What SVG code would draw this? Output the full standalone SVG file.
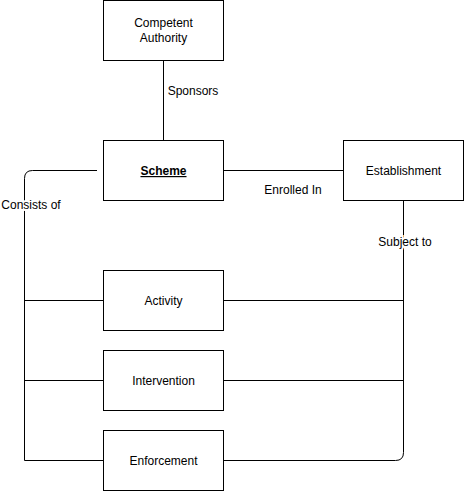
<svg xmlns="http://www.w3.org/2000/svg" width="464" height="491" viewBox="0 0 464 491">
<style>
.box{fill:#fff;stroke:#000;stroke-width:1}
.ln{fill:none;stroke:#000;stroke-width:1}
text{font-family:"Liberation Sans",Arial,sans-serif;font-size:12px;fill:#000;text-anchor:middle}
.lbl{paint-order:stroke;stroke:#fff;stroke-width:4}
</style>
<rect width="464" height="491" fill="#fff"/>
<g id="connectors">
<path class="ln" d="M163.5 60.5V140.5"/>
<path class="ln" d="M223.5 170.5H343.5"/>
<path class="ln" d="M97 170.5H32.5Q24.5 170.5 24.5 178.5V460.5H103.5"/>
<path class="ln" d="M24.5 300.5H103.5"/>
<path class="ln" d="M24.5 380.5H103.5"/>
<path class="ln" d="M403.5 200.5V452.5Q403.5 460.5 395.5 460.5H223.5"/>
<path class="ln" d="M223.5 300.5H403.5"/>
<path class="ln" d="M223.5 380.5H403.5"/>
<text class="lbl" x="193" y="95">Sponsors</text>
<text x="293" y="194">Enrolled In</text>
<text class="lbl" x="405" y="246">Subject to</text>
<text class="lbl" x="31" y="209">Consists of</text>
</g>
<g id="competent-authority"><rect class="box" x="103.5" y="0.5" width="120" height="60"/><text x="163.5" y="27">Competent</text><text x="163.5" y="42">Authority</text></g>
<g id="scheme"><rect class="box" x="103.5" y="140.5" width="120" height="60"/><text x="163.5" y="175" font-weight="bold" text-decoration="underline">Scheme</text></g>
<g id="establishment"><rect class="box" x="343.5" y="140.5" width="120" height="60"/><text x="403.5" y="175">Establishment</text></g>
<g id="activity"><rect class="box" x="103.5" y="270.5" width="120" height="60"/><text x="163.5" y="305">Activity</text></g>
<g id="intervention"><rect class="box" x="103.5" y="350.5" width="120" height="60"/><text x="163.5" y="385">Intervention</text></g>
<g id="enforcement"><rect class="box" x="103.5" y="430.5" width="120" height="60"/><text x="163.5" y="465">Enforcement</text></g>
</svg>
